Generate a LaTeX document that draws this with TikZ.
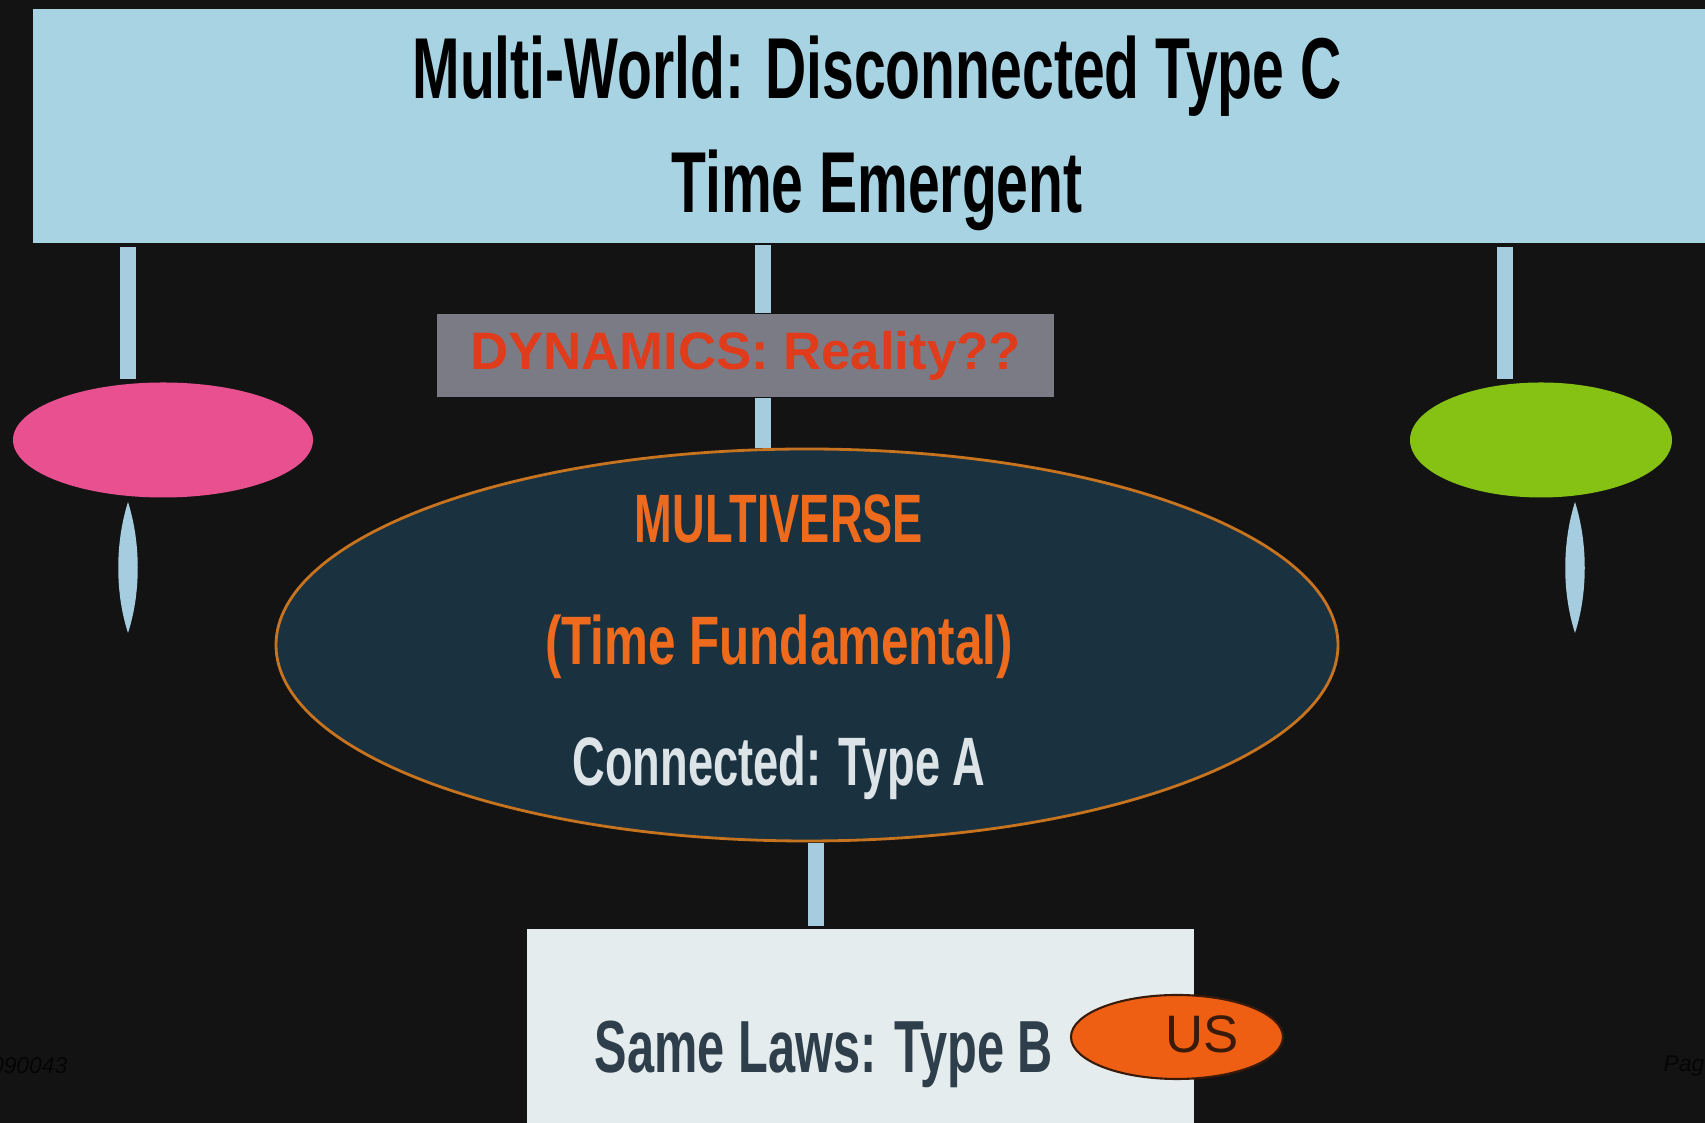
\documentclass[tikz,border=0pt]{standalone}
\usepackage{fontspec}
\setmainfont{Liberation Sans}
\newfontfamily\narrowfont[FakeStretch=0.66]{Liberation Sans}
\newfontfamily\widerfont[FakeStretch=0.72]{Liberation Sans}
\usetikzlibrary{shapes.geometric}

\definecolor{bgdark}{HTML}{131313}
\definecolor{skyblue}{HTML}{A7D3E3}
\definecolor{rodblue}{HTML}{A6CCDF}
\definecolor{hotpink}{HTML}{E8508F}
\definecolor{limegreen}{HTML}{86C214}
\definecolor{dyngrey}{HTML}{7B7B86}
\definecolor{dynred}{HTML}{E03C1C}
\definecolor{deepteal}{HTML}{1A3140}
\definecolor{rimorange}{HTML}{C8731E}
\definecolor{mvorange}{HTML}{EE6A1C}
\definecolor{paleblue}{HTML}{DDE4E8}
\definecolor{paper}{HTML}{E4ECEE}
\definecolor{slate}{HTML}{2E3E4A}
\definecolor{usorange}{HTML}{EE5F14}
\definecolor{usdark}{HTML}{3A1A08}
\definecolor{footgrey}{HTML}{050505}

\tikzset{
  rod/.style={draw=rodblue,line width=0.16cm},
  puck/.style={ellipse,inner sep=0pt},
  bigtext/.style={font=\narrowfont\bfseries\fontsize{24.6pt}{30pt}\selectfont,inner sep=0pt,anchor=base},
  midtext/.style={font=\widerfont\bfseries\fontsize{19.5pt}{24pt}\selectfont,inner sep=0pt,anchor=base},
  foot/.style={font=\itshape\fontsize{6.5pt}{8pt}\selectfont,text=footgrey,inner sep=0pt}
}

\begin{document}
\begin{tikzpicture}
    \useasboundingbox (0,0) rectangle (17.05,11.23);
    \clip (0,0) rectangle (17.05,11.23);
    \fill[bgdark] (0,0) rectangle (17.05,11.23);

    % top bar
    \node[fill=skyblue,minimum width=16.88cm,minimum height=2.34cm] (topbox) at (8.77,9.97) {};
    \node[bigtext] (title) at (8.77,10.24) {Multi-World: Disconnected Type C};
    \node[bigtext] (emergent) at (8.77,9.10) {Time Emergent};

    % side pucks
    \node[puck,fill=hotpink,minimum width=3.0cm,minimum height=1.15cm] (pink) at (1.63,6.83) {};
    \node[puck,fill=limegreen,minimum width=2.62cm,minimum height=1.15cm] (green) at (15.41,6.83) {};

    \coordinate (lx) at (1.28,0);
    \coordinate (rx) at (15.05,0);
    \coordinate (mx) at (7.63,0);
    \coordinate (bx) at (8.16,0);

    \draw[rod] ([yshift=-0.03cm]topbox.south -| lx) -- ([yshift=0.03cm]pink.north -| lx);
    \draw[rod] ([yshift=-0.03cm]topbox.south -| rx) -- ([yshift=0.03cm]green.north -| rx);

    % loose ends under the pucks
    \fill[rodblue] (1.28,6.21) .. controls (1.41,5.8) and (1.41,5.3) .. (1.28,4.90)
                              .. controls (1.15,5.3) and (1.15,5.8) .. (1.28,6.21);
    \fill[rodblue] (15.75,6.21) .. controls (15.88,5.8) and (15.88,5.3) .. (15.75,4.90)
                               .. controls (15.62,5.3) and (15.62,5.8) .. (15.75,6.21);

    % dynamics label
    \node[fill=dyngrey,minimum width=6.17cm,minimum height=0.83cm,
          text=dynred,font=\bfseries\fontsize{15pt}{18pt}\selectfont] (dyn) at (7.455,7.675) {DYNAMICS: Reality??};

    % multiverse
    \node[puck,fill=deepteal,draw=rimorange,line width=0.8pt,
          minimum width=10.62cm,minimum height=3.92cm] (mv) at (8.07,4.78) {};
    \node[midtext,font=\narrowfont\bfseries\fontsize{19.5pt}{24pt}\selectfont,text=mvorange] (mvname) at (7.79,5.80) {MULTIVERSE};
    \node[midtext,text=mvorange] (mvtime) at (7.79,4.58) {(Time Fundamental)};
    \node[midtext,font=\narrowfont\bfseries\fontsize{19.5pt}{24pt}\selectfont,text=paleblue] (mvtype) at (7.79,3.37) {Connected: Type A};

    \draw[rod] ([yshift=-0.01cm]topbox.south -| mx) -- (dyn.north -| mx);
    \draw[rod] (dyn.south -| mx) -- (mv.north -| mx);

    % same laws box
    \node[fill=paper,minimum width=6.67cm,minimum height=2.3cm,anchor=north] (laws) at (8.605,1.95) {};
    \node[font=\narrowfont\bfseries\fontsize{21pt}{26pt}\selectfont,text=slate,inner sep=0pt,anchor=base] (lawstext) at (8.24,0.50) {Same Laws: Type B};
    \draw[rod] ([yshift=-0.01cm]mv.south -| bx) -- ([yshift=0.02cm]laws.north -| bx);

    \node[puck,fill=usorange,draw=usdark,line width=0.6pt,
          minimum width=2.12cm,minimum height=0.84cm] (us) at (11.77,0.86) {};
    \node[text=usdark,font=\fontsize{15pt}{18pt}\selectfont,inner sep=0pt] (ustext) at (12.02,0.89) {US};

    % footer
    \node[foot,anchor=east] (code) at (0.68,0.57) {090043};
    \node[foot,anchor=west] (page) at (16.63,0.57) {Page};
\end{tikzpicture}
\end{document}
